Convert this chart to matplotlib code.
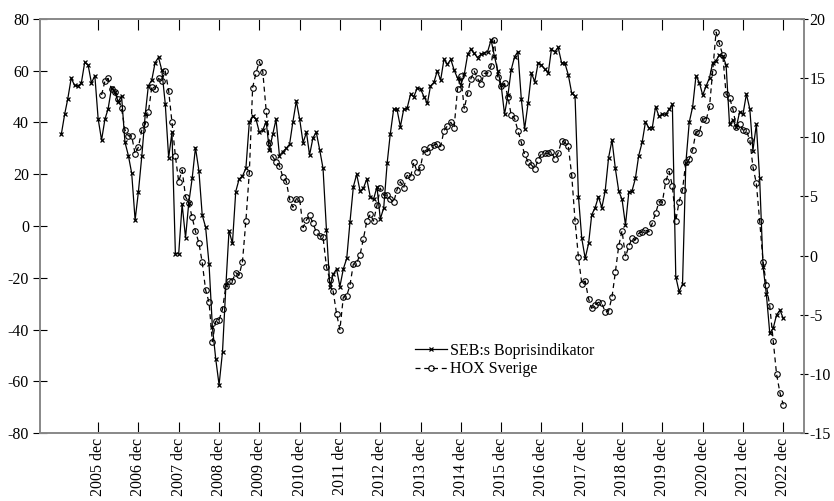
import pandas as pd
import matplotlib
matplotlib.use("Agg")
import matplotlib.pyplot as plt

# SEB:s Boprisindikator, monthly 2005 jan - 2022 dec (left axis)
seb = [
    35.4, 43.3, 49.2, 57.2, 54.3, 54.2, 55.1, 63.2, 62.2, 55.3, 58.1, 41.4,
    33.2, 41.4, 45.2, 53.3, 51.8, 48.0, 50.3, 32.4, 27.2, 20.4, 2.3, 13.3,
    27.2, 43.2, 54.2, 56.4, 63.1, 65.2, 60.2, 47.3, 26.4, 36.2, -10.7, -10.7,
    8.4, -4.5, 8.8, 18.4, 30.3, 21.4, 4.3, -0.5, -14.7, -38.9, -51.5, -61.4,
    -48.6, -22.8, -1.8, -6.7, 13.3, 18.2, 19.3, 22.3, 40.1, 42.5, 41.2, 36.2,
    37.1, 40.3, 29.4, 35.4, 41.2, 27.2, 28.7, 30.0, 31.6, 40.3, 48.3, 41.4,
    32.2, 36.2, 27.4, 34.1, 36.2, 29.4, 22.3, -1.5, -23.4, -18.7, -16.6, -23.4,
    -16.6, -12.5, 1.4, 15.2, 20.0, 13.5, 14.6, 18.2, 11.3, 10.3, 15.2, 2.7,
    7.0, 24.2, 35.4, 45.1, 45.1, 38.4, 45.1, 45.5, 50.9, 50.0, 53.3, 52.9,
    50.0, 47.4, 54.1, 55.5, 59.9, 56.4, 64.4, 62.5, 64.4, 60.3, 57.1, 54.5,
    58.6, 66.3, 68.3, 66.7, 65.1, 66.3, 67.0, 67.4, 71.9, 65.7, 59.9, 54.5,
    43.2, 50.6, 60.3, 65.4, 67.4, 49.1, 37.5, 47.4, 59.0, 55.8, 63.1, 62.2,
    60.5, 59.3, 68.3, 67.4, 69.0, 63.1, 62.9, 58.4, 51.3, 50.2, 11.3, -4.8,
    -12.5, -6.7, 4.3, 7.1, 11.3, 7.1, 13.5, 26.4, 33.2, 22.3, 13.5, 10.3,
    0.4, 13.3, 13.5, 18.4, 27.2, 32.3, 40.1, 38.0, 38.0, 46.1, 42.4, 43.2,
    43.2, 45.1, 47.0, -19.6, -25.4, -22.5, 24.2, 40.1, 46.1, 58.0, 55.4, 50.6,
    54.1, 57.3, 63.1, 63.9, 66.1, 65.8, 62.2, 39.3, 41.0, 38.1, 44.2, 43.2,
    51.0, 45.2, 29.1, 39.3, 18.4, -15.7, -26.4, -41.5, -39.5, -34.4, -32.5, -35.7,
]

# HOX Sverige, monthly 2006 jan - 2022 dec (right axis)
hox = [
    13.58, 14.77, 14.98, 14.07, 13.83, 13.25, 12.45, 10.62, 10.12, 10.11, 8.59, 9.18,
    10.62, 11.11, 12.1, 14.24, 14.07, 14.98, 14.77, 15.6, 13.93, 11.27, 8.4, 6.25,
    7.24, 4.98, 4.45, 3.22, 2.05, 1.07, -0.57, -2.91, -3.95, -7.28, -5.5, -5.44,
    -4.54, -2.54, -2.12, -2.12, -1.44, -1.64, -0.51, 2.95, 7.01, 14.2, 15.46, 16.39,
    15.55, 12.22, 9.54, 8.36, 7.94, 7.6, 6.67, 6.31, 4.76, 4.08, 4.8, 4.8,
    2.37, 3.01, 3.39, 2.75, 1.97, 1.67, 1.57, -0.94, -2.06, -3.02, -4.94, -6.26,
    -3.5, -3.39, -2.51, -0.71, -0.62, 0.08, 1.43, 2.9, 3.49, 2.92, 4.25, 5.7,
    5.1, 5.1, 4.8, 4.5, 5.55, 6.25, 5.74, 6.78, 6.62, 7.9, 7.05, 7.52,
    8.98, 8.79, 9.21, 9.35, 9.43, 9.21, 10.56, 10.96, 11.27, 10.81, 14.08, 15.15,
    12.42, 13.72, 14.93, 15.6, 14.98, 14.48, 15.41, 15.41, 16.03, 18.2, 15.07, 14.34,
    14.56, 13.43, 11.89, 11.6, 10.56, 9.57, 8.56, 7.94, 7.66, 7.32, 8.08, 8.62,
    8.65, 8.65, 8.75, 8.15, 8.67, 9.7, 9.56, 9.25, 6.78, 2.94, -0.16, -2.37,
    -2.15, -3.67, -4.46, -4.15, -3.95, -4.03, -4.77, -4.68, -3.5, -1.43, 0.83, 2.1,
    -0.09, 0.79, 1.46, 1.32, 1.88, 2.0, 2.16, 2.0, 2.73, 3.57, 4.56, 4.5,
    6.28, 7.12, 5.88, 2.95, 4.56, 5.55, 7.94, 8.15, 8.93, 10.48, 10.4, 11.58,
    11.44, 12.62, 15.55, 18.9, 17.94, 16.93, 13.63, 13.35, 12.37, 10.9, 11.1, 10.62,
    10.53, 9.77, 7.52, 6.11, 2.95, -0.51, -2.49, -4.3, -7.2, -10.0, -11.6, -12.6,
]

seb_dates = pd.date_range("2005-01-01", periods=len(seb), freq="MS")
hox_dates = pd.date_range("2006-01-01", periods=len(hox), freq="MS")

tick_dates = pd.date_range("2005-12-01", "2022-12-01", freq="12MS")
tick_labels = [f"{d.year} dec" for d in tick_dates]

left_ticks = list(range(-80, 81, 20))
right_ticks = list(range(-15, 21, 5))

plt.rcParams['font.family'] = ['Liberation Serif', 'DejaVu Serif']
plt.rcParams['font.size'] = 11.5
plt.rcParams['axes.unicode_minus'] = False

fig = plt.figure(figsize=(8.34, 5.01), dpi=100)
ax = fig.add_axes([40 / 834, 1 - 433 / 501, 764 / 834, 414 / 501])
ax2 = ax.twinx()

l1, = ax.plot(seb_dates, seb, color='black', lw=0.9, marker='x', ms=3.5, mew=0.9,
              label='SEB:s Boprisindikator')
l2, = ax2.plot(hox_dates, hox, color='black', lw=0.9, ls=(0, (4, 3)), marker='o', ms=4,
               mfc='none', mew=0.8, label='HOX Sverige')

ax.set_xlim(pd.Timestamp("2004-06-22"), pd.Timestamp("2023-06-07"))
ax.set_ylim(-80, 80)
ax2.set_ylim(-15, 20)

ax.set_xticks(tick_dates)
ax.set_xticklabels(tick_labels, rotation=90)
ax.set_yticks(left_ticks)
ax.set_yticklabels([str(v) for v in left_ticks])
ax2.set_yticks(right_ticks)
ax2.set_yticklabels([str(v) for v in right_ticks])

ax.tick_params(axis='x', direction='in', length=8, top=True, width=0.8)
ax.tick_params(axis='y', direction='inout', length=10, width=0.8, pad=3)
ax2.tick_params(axis='y', direction='inout', length=6, width=0.8, pad=1)

for a in (ax, ax2):
    for s in a.spines.values():
        s.set_color('#888888')
        s.set_linewidth(1.2)

ax.legend(handles=[l1, l2], loc='upper left', bbox_to_anchor=(407 / 834, 1 - 335 / 501),
          bbox_transform=fig.transFigure, frameon=False, handlelength=2.0,
          handletextpad=0.2, labelspacing=0.15, borderpad=0)

fig.savefig("out.png", dpi=100)
